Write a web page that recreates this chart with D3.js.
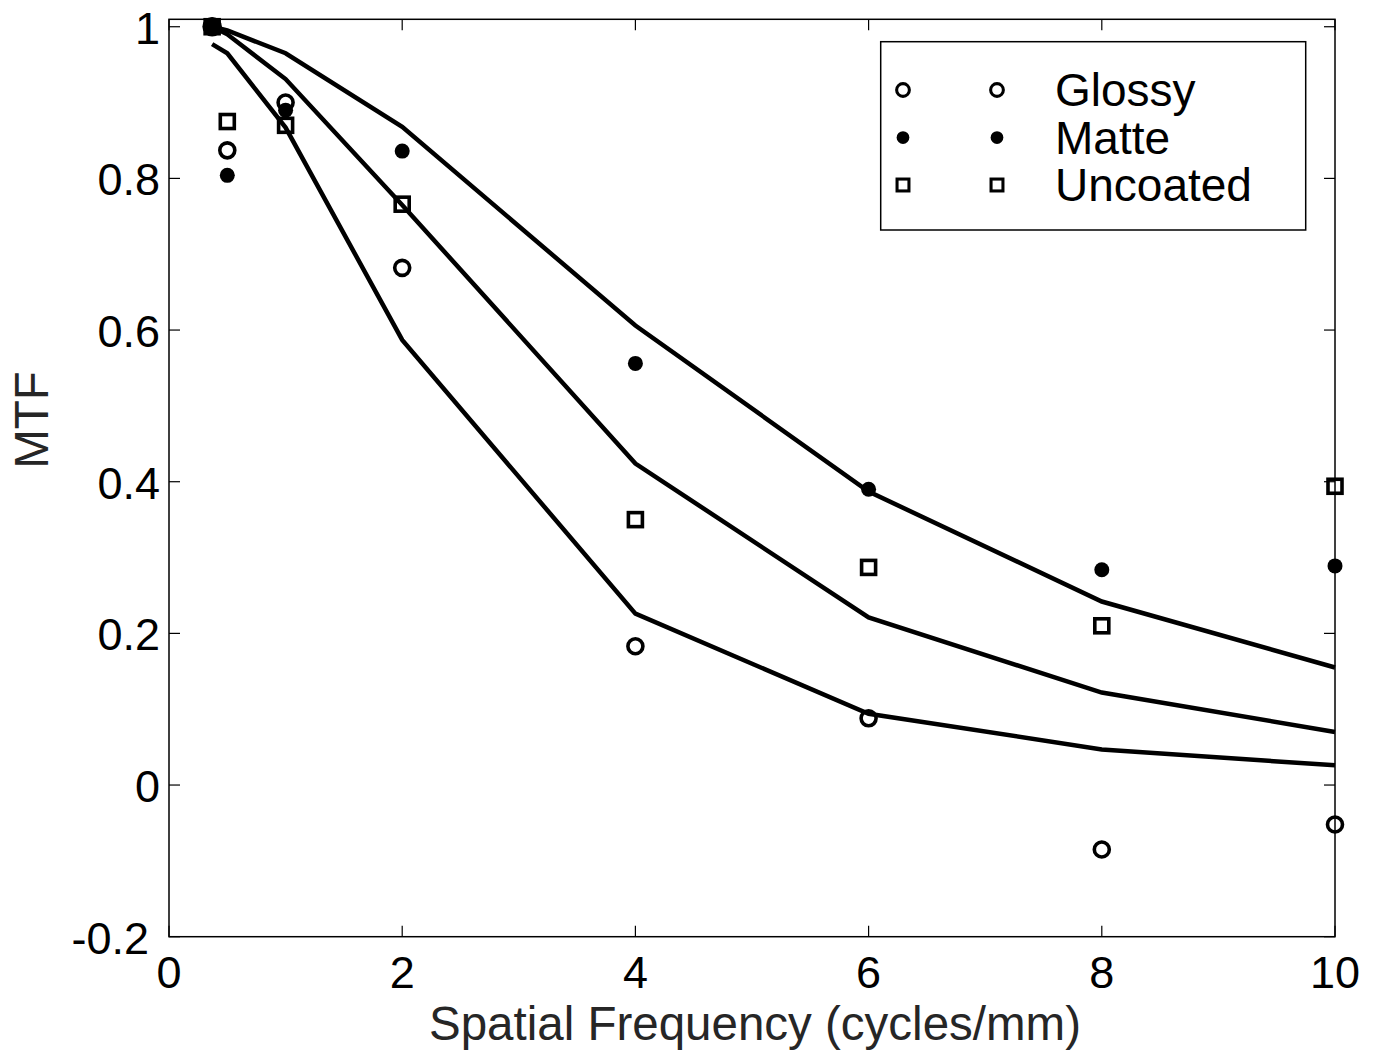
<!DOCTYPE html>
<html>
<head>
<meta charset="utf-8">
<script src="https://cdn.jsdelivr.net/npm/d3@7"></script>
<style>
  body { margin: 0; background: #fff; }
  text { font-family: "Liberation Sans", Arial, sans-serif; }
</style>
</head>
<body>
<script>
// measured spatial frequencies (cycles/mm)
var freqs = [0.37, 0.5, 1, 2, 4, 6, 8, 10];

// measured MTF per paper type
var glossy   = [1.0, 0.837, 0.90, 0.682, 0.183, 0.088, -0.085, -0.052];
var matte    = [1.0, 0.804, 0.89, 0.836, 0.556, 0.390, 0.284, 0.289];
var uncoated = [1.0, 0.875, 0.870, 0.766, 0.350, 0.287, 0.210, 0.394];

// model curves
var modelHigh = [1.0, 0.995, 0.965, 0.868, 0.606, 0.387, 0.242, 0.155];
var modelMid  = [1.0, 0.99, 0.931, 0.765, 0.424, 0.221, 0.122, 0.070];
var modelLow  = [0.977, 0.965, 0.867, 0.587, 0.226, 0.094, 0.047, 0.026];

var xTicks = [0, 2, 4, 6, 8, 10];
var yTicks = [-0.2, 0, 0.2, 0.4, 0.6, 0.8, 1];
var legendNames = ["Glossy", "Matte", "Uncoated"];

var w = 1379, h = 1053,
    pLeft = 169, pRight = 1335, pTop = 19.3, pBottom = 936.7;

var x = d3.scaleLinear().domain([0, 10]).range([pLeft, pRight]),
    y = d3.scaleLinear().domain([-0.2, 1.0098]).range([pBottom, pTop]);

var svg = d3.select("body").append("svg")
    .attr("width", w)
    .attr("height", h);

// box
svg.append("rect")
    .attr("x", pLeft).attr("y", pTop)
    .attr("width", pRight - pLeft).attr("height", pBottom - pTop)
    .attr("fill", "none").attr("stroke", "#000").attr("stroke-width", 1.5);

var tl = 11;
xTicks.forEach(function(t) {
    svg.append("line").attr("x1", x(t)).attr("x2", x(t)).attr("y1", pBottom).attr("y2", pBottom - tl)
        .attr("stroke", "#000").attr("stroke-width", 1.2);
    svg.append("line").attr("x1", x(t)).attr("x2", x(t)).attr("y1", pTop).attr("y2", pTop + tl)
        .attr("stroke", "#000").attr("stroke-width", 1.2);
    svg.append("text").attr("x", x(t)).attr("y", 988)
        .attr("text-anchor", "middle").attr("font-size", 45).text(t);
});
yTicks.forEach(function(t) {
    svg.append("line").attr("x1", pLeft).attr("x2", pLeft + tl).attr("y1", y(t)).attr("y2", y(t))
        .attr("stroke", "#000").attr("stroke-width", 1.2);
    svg.append("line").attr("x1", pRight).attr("x2", pRight - tl).attr("y1", y(t)).attr("y2", y(t))
        .attr("stroke", "#000").attr("stroke-width", 1.2);
    svg.append("text").attr("x", t < 0 ? 149 : 160).attr("y", y(t) + 17)
        .attr("text-anchor", "end").attr("font-size", 45).text(t);
});

svg.append("text").attr("x", 755).attr("y", 1040)
    .attr("text-anchor", "middle").attr("font-size", 47.5).attr("fill", "#262626")
    .text("Spatial Frequency (cycles/mm)");
svg.append("text").attr("transform", "translate(48,420) rotate(-90)")
    .attr("text-anchor", "middle").attr("font-size", 47.5).attr("fill", "#262626")
    .text("MTF");

// model lines
var line = d3.line().x(function(d, i) { return x(freqs[i]); }).y(function(d) { return y(d); });
[modelHigh, modelMid, modelLow].forEach(function(s) {
    svg.append("path").datum(s).attr("d", line)
        .attr("fill", "none").attr("stroke", "#000").attr("stroke-width", 4.5)
        .attr("stroke-linejoin", "miter");
});

function marker(g, kind, cx, cy, s) {
    if (kind === 0) {
        g.append("circle").attr("cx", cx).attr("cy", cy).attr("r", 7.5 * s)
            .attr("fill", "none").attr("stroke", "#000").attr("stroke-width", 3.6 * s);
    } else if (kind === 1) {
        g.append("circle").attr("cx", cx).attr("cy", cy).attr("r", 7.5 * s).attr("fill", "#000");
    } else {
        var a = 7 * s;
        g.append("rect").attr("x", cx - a).attr("y", cy - a).attr("width", 2 * a).attr("height", 2 * a)
            .attr("fill", "none").attr("stroke", "#000").attr("stroke-width", 3.6 * s);
    }
}

// draw order: glossy, uncoated, then matte on top
var pts = svg.append("g");
[[glossy, 0], [uncoated, 2], [matte, 1]].forEach(function(p) {
    p[0].forEach(function(v, i) {
        marker(pts, p[1], x(freqs[i]), y(v), (p[1] === 1 && i === 0) ? 1.3 : 1);
    });
});

// legend
var lg = svg.append("g");
lg.append("rect").attr("x", 880.7).attr("y", 41.7).attr("width", 425).attr("height", 188.3)
    .attr("fill", "#fff").attr("stroke", "#000").attr("stroke-width", 1.5);
legendNames.forEach(function(n, k) {
    var ly = 90 + k * 47.5;
    marker(lg, k, 903, ly, 0.85);
    marker(lg, k, 997, ly, 0.85);
    lg.append("text").attr("x", 1055).attr("y", ly + 16).attr("font-size", 46).text(n);
});
</script>
</body>
</html>
